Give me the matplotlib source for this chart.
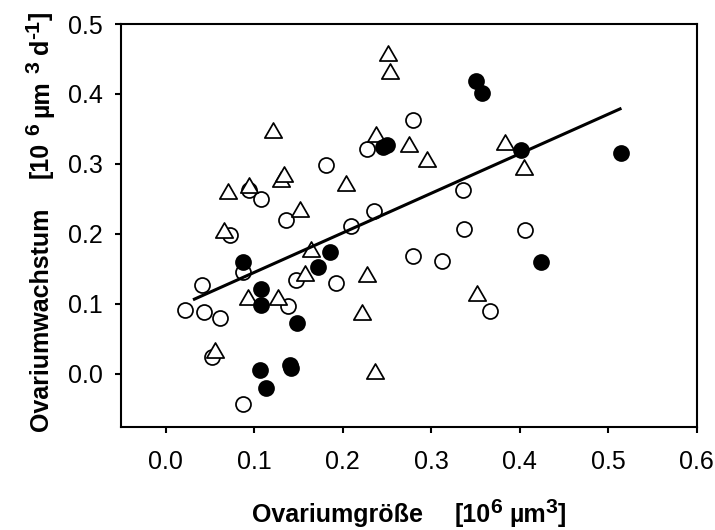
import matplotlib
matplotlib.use("Agg")
import matplotlib.pyplot as plt
from matplotlib.path import Path
from matplotlib.transforms import IdentityTransform
import numpy as np

# ---- data ----
open_x = [0.022, 0.041, 0.043, 0.061, 0.053, 0.073, 0.088, 0.087, 0.094, 0.108,
          0.136, 0.138, 0.147, 0.181, 0.192, 0.210, 0.228, 0.235, 0.280, 0.280,
          0.312, 0.336, 0.337, 0.366, 0.406]
open_y = [0.091, 0.126, 0.088, 0.080, 0.024, 0.198, 0.145, -0.043, 0.262, 0.250,
          0.219, 0.096, 0.134, 0.299, 0.129, 0.211, 0.321, 0.232, 0.362, 0.168,
          0.161, 0.263, 0.207, 0.090, 0.206]

tri_x = [0.056, 0.066, 0.071, 0.094, 0.093, 0.121, 0.127, 0.130, 0.134, 0.152,
         0.157, 0.164, 0.204, 0.222, 0.228, 0.237, 0.238, 0.251, 0.253, 0.275,
         0.295, 0.352, 0.384, 0.405]
tri_y = [0.033, 0.205, 0.261, 0.270, 0.110, 0.349, 0.109, 0.279, 0.286, 0.235,
         0.144, 0.178, 0.272, 0.088, 0.142, 0.004, 0.343, 0.459, 0.433, 0.328,
         0.307, 0.115, 0.331, 0.295]

fill_x = [0.088, 0.108, 0.108, 0.107, 0.114, 0.141, 0.142, 0.148, 0.172, 0.186,
          0.246, 0.250, 0.351, 0.358, 0.402, 0.424, 0.515]
fill_y = [0.160, 0.121, 0.098, 0.005, -0.021, 0.012, 0.008, 0.072, 0.153, 0.174,
          0.324, 0.327, 0.418, 0.402, 0.320, 0.159, 0.316]

# regression line
fit_intercept = 0.088
fit_slope = 0.566
fit_x = [0.031, 0.515]

xticks = [0.0, 0.1, 0.2, 0.3, 0.4, 0.5, 0.6]
xtick_labels = ["0.0", "0.1", "0.2", "0.3", "0.4", "0.5", "0.6"]
yticks = [0.0, 0.1, 0.2, 0.3, 0.4, 0.5]
ytick_labels = ["0.0", "0.1", "0.2", "0.3", "0.4", "0.5"]

# axis titles as pieces: (text, kind) ; kind n = normal, s = superscript, g = gap in em
xlabel_pieces = [("Ovariumgröße", "n"), (1.25, "g"), ("[10", "n"), ("6", "s"),
                 (0.28, "g"), ("µm", "n"), ("3", "s"), ("]", "n")]
ylabel_pieces = [("Ovariumwachstum", "n"), (1.15, "g"), ("[10", "n"), (0.28, "g"),
                 ("6", "s"), (0.28, "g"), ("µm", "n"), (0.28, "g"), ("3", "s"),
                 (0.28, "g"), ("d", "n"), ("-1", "s"), ("]", "n")]

# ---- style ----
plt.rcParams['font.family'] = ['Liberation Sans', 'DejaVu Sans']

W, H = 715, 530
fig = plt.figure(figsize=(W / 100, H / 100), dpi=100)
L, R, T, B = 121.3, 696.7, 24.0, 426.7
ax = fig.add_axes([L / W, 1 - B / H, (R - L) / W, (B - T) / H])

tri_marker = Path([(0, 0.433), (-0.5, -0.433), (0.5, -0.433), (0, 0.433)],
                  [Path.MOVETO, Path.LINETO, Path.LINETO, Path.CLOSEPOLY])

ax.plot(open_x, open_y, linestyle='none', marker='o', ms=10.8,
        mfc='white', mec='black', mew=1.25, zorder=3)
ax.plot(tri_x, tri_y, linestyle='none', marker=tri_marker, ms=12.5,
        mfc='white', mec='black', mew=1.25, zorder=4)
ax.plot(fill_x, fill_y, linestyle='none', marker='o', ms=10.8,
        mfc='black', mec='black', mew=1.25, zorder=5)

fx = np.array(fit_x)
ax.plot(fx, fit_intercept + fit_slope * fx, color='black', lw=2.2,
        solid_capstyle='butt', zorder=6)

ax.set_xlim(-0.05, 0.6)
ax.set_ylim(-0.076, 0.5)
ax.set_xticks(xticks)
ax.set_xticklabels(xtick_labels)
ax.set_yticks(yticks)
ax.set_yticklabels(ytick_labels)

for s in ax.spines.values():
    s.set_linewidth(1.5)
ax.tick_params(axis='both', direction='out', length=4.5, width=1.5,
               labelsize=18, top=False, right=False)
ax.tick_params(axis='x', pad=12)
ax.tick_params(axis='y', pad=9)


def draw_label(pieces, fs, vertical, center, baseline, sup_scale=0.85, rise_em=0.36):
    renderer = fig.canvas.get_renderer()
    em = fs * fig.dpi / 72.0
    items = []
    total = 0.0
    for s, kind in pieces:
        if kind == "g":
            items.append((None, s * em, 0.0))
            total += s * em
            continue
        size = fs * sup_scale if kind == "s" else fs
        t = fig.text(0, 0, s, fontsize=size, fontweight='bold',
                     transform=IdentityTransform(), ha='left', va='baseline',
                     rotation=90 if vertical else 0, rotation_mode='anchor')
        ext = t.get_window_extent(renderer)
        length = ext.height if vertical else ext.width
        items.append((t, length, rise_em * em if kind == "s" else 0.0))
        total += length
    pos = center - total / 2.0
    for t, length, rise in items:
        if t is not None:
            if vertical:
                t.set_position((baseline - rise, pos))
            else:
                t.set_position((pos, baseline + rise))
        pos += length


draw_label(xlabel_pieces, 18, False, (L + R) / 2.0, 8.0)
draw_label(ylabel_pieces, 18, True, H - 221.0, 48.0)

fig.savefig("out.png", dpi=100)
